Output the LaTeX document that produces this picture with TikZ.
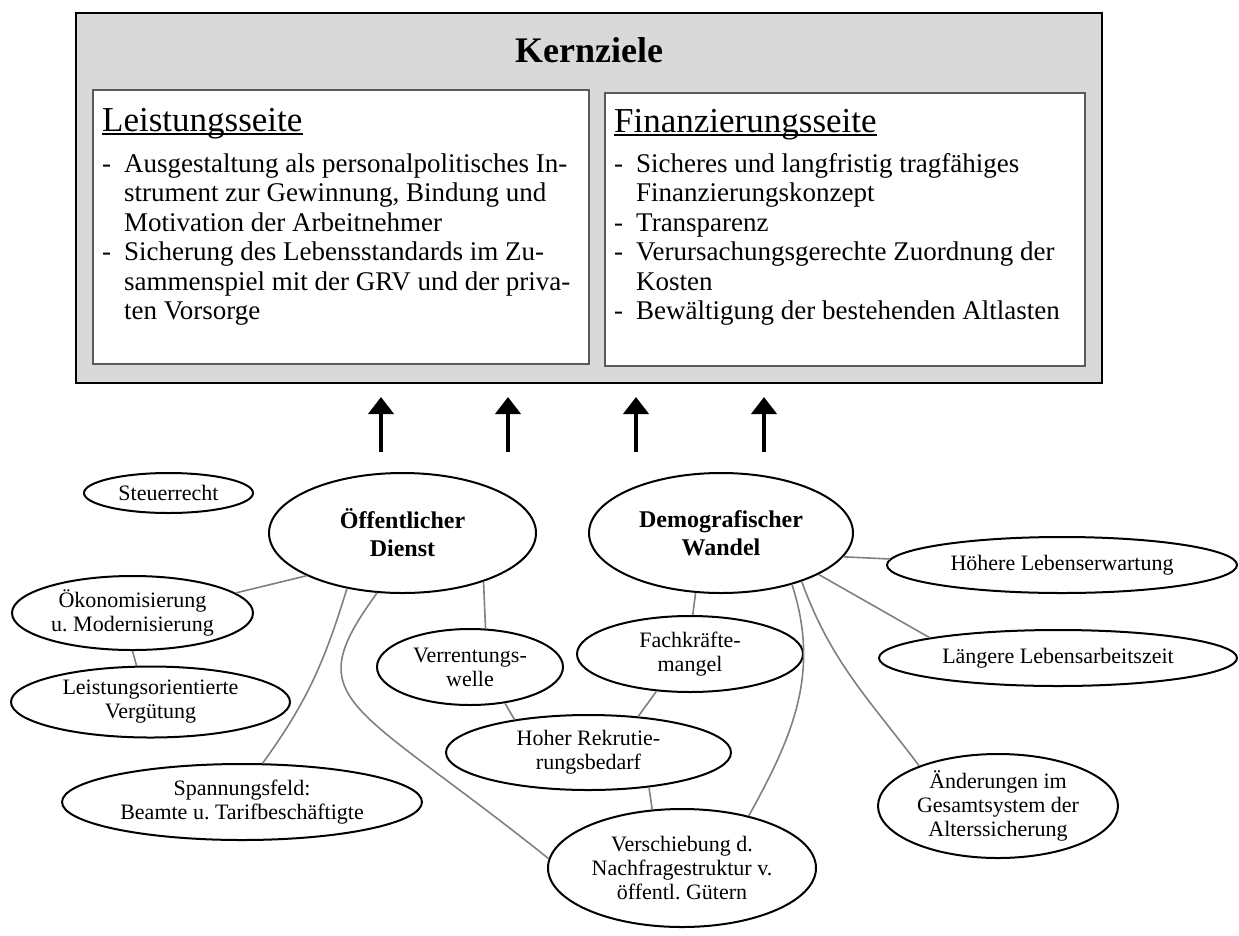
\documentclass[tikz,border=0pt]{standalone}
\usepackage{fontspec}
\setmainfont{Liberation Serif}
\usetikzlibrary{shapes.geometric,arrows.meta}
\definecolor{boxgray}{HTML}{D9D9D9}
\definecolor{linegray}{HTML}{808080}
\definecolor{framegray}{HTML}{5A5A5A}
\frenchspacing
\begin{document}
\begin{tikzpicture}[x=1pt,y=-1pt,
  oval/.style={ellipse, draw=black, line width=2pt, fill=white, align=center,
    inner xsep=-10pt, inner ysep=-8pt, font=\fontsize{22}{24}\selectfont},
  bigoval/.style={oval, font=\fontsize{24}{28}\selectfont\bfseries},
  link/.style={draw=linegray, line width=1.6pt},
  uparrow/.style={line width=4pt, -{Triangle[width=25pt,length=17pt]}},
  txt/.style={inner sep=0pt, anchor=base west, font=\fontsize{27}{30}\selectfont},
  head/.style={inner sep=0pt, anchor=base west, font=\fontsize{35}{40}\selectfont},
  ul/.style={line width=1.6pt},
  frame/.style={draw=framegray, line width=1.6pt, fill=white, inner sep=0pt, anchor=north west}
]
\useasboundingbox (0,0) rectangle (1239,935);

% core goals box
\node[draw=black, line width=2pt, fill=boxgray, inner sep=0pt, anchor=north west,
  minimum width=1026pt, minimum height=370pt] (outer) at (75,12) {};
\node[inner sep=0pt, anchor=base, font=\fontsize{36}{40}\selectfont\bfseries] (kern) at (589,62) {Kernziele};
\node[frame, minimum width=496pt, minimum height=274pt] (lbox) at (92,89) {};
\node[frame, minimum width=480pt, minimum height=273pt] (rbox) at (604,92) {};

% left box
\node[head] (lh) at (102,131) {Leistungsseite};
\draw[ul] ([yshift=-3pt]lh.base west) -- ([yshift=-3pt]lh.base east);
\node[txt] (ld1) at (102,172) {-};
\node[txt] (l1) at (124,172) {Ausgestaltung als personalpolitisches In-};
\node[txt] (l2) at (124,201.5) {strument zur Gewinnung, Bindung und};
\node[txt] (l3) at (124,231) {Motivation der Arbeitnehmer};
\node[txt] (ld2) at (102,260.5) {-};
\node[txt] (l4) at (124,260.5) {Sicherung des Lebensstandards im Zu-};
\node[txt] (l5) at (124,290) {sammenspiel mit der GRV und der priva-};
\node[txt] (l6) at (124,319.5) {ten Vorsorge};

% right box
\node[head] (rh) at (614,132) {Finanzierungsseite};
\draw[ul] ([yshift=-3pt]rh.base west) -- ([yshift=-3pt]rh.base east);
\node[txt] (rd1) at (614,172) {-};
\node[txt] (r1) at (636,172) {Sicheres und langfristig tragfähiges};
\node[txt] (r2) at (636,201.5) {Finanzierungskonzept};
\node[txt] (rd2) at (614,231) {-};
\node[txt] (r3) at (636,231) {Transparenz};
\node[txt] (rd3) at (614,260.5) {-};
\node[txt] (r4) at (636,260.5) {Verursachungsgerechte Zuordnung der};
\node[txt] (r5) at (636,290) {Kosten};
\node[txt] (rd4) at (614,319.5) {-};
\node[txt] (r6) at (636,319.5) {Bewältigung der bestehenden Altlasten};

% arrows
\coordinate (a1b) at (381,452); \coordinate (a1t) at (381,397);
\coordinate (a2b) at (508,452); \coordinate (a2t) at (508,397);
\coordinate (a3b) at (636,452); \coordinate (a3t) at (636,397);
\coordinate (a4b) at (764,452); \coordinate (a4t) at (764,397);
\draw[uparrow] (a1b) -- (a1t);
\draw[uparrow] (a2b) -- (a2t);
\draw[uparrow] (a3b) -- (a3t);
\draw[uparrow] (a4b) -- (a4t);

% ovals
\node[oval, minimum width=169pt, minimum height=40pt] (steuer) at (168.5,493) {Steuerrecht};
\node[bigoval, minimum width=267pt, minimum height=120pt] (od) at (402.5,533) {Öffentlicher\\Dienst};
\node[bigoval, minimum width=264pt, minimum height=120pt] (dw) at (721,533) {Demografischer\\Wandel};
\node[oval, minimum width=350pt, minimum height=56pt] (hoe) at (1062,565) {Höhere Lebenserwartung};
\node[oval, minimum width=241pt, minimum height=74pt] (oek) at (132.5,613) {Ökonomisierung\\u. Modernisierung};
\node[oval, minimum width=186pt, minimum height=76pt] (vrw) at (470,667) {Verrentungs-\\welle};
\node[oval, minimum width=226pt, minimum height=76pt] (fach) at (690,654) {Fachkräfte-\\mangel};
\node[oval, minimum width=358pt, minimum height=56pt] (laeng) at (1058,658) {Längere Lebensarbeitszeit};
\node[oval, minimum width=279pt, minimum height=71pt] (leist) at (150.5,702) {Leistungsorientierte\\Vergütung};
\node[oval, minimum width=285pt, minimum height=75pt] (hoher) at (588.5,752.5) {Hoher Rekrutie-\\rungsbedarf};
\node[oval, minimum width=360pt, minimum height=76pt] (spann) at (242,802) {Spannungsfeld:\\Beamte u. Tarifbeschäftigte};
\node[oval, minimum width=240pt, minimum height=104pt] (aend) at (998,806) {Änderungen im\\Gesamtsystem der\\Alterssicherung};
\node[oval, minimum width=268pt, minimum height=118pt] (versch) at (682,868) {Verschiebung d.\\Nachfragestruktur v.\\öffentl. Gütern};

% connectors
\draw[link] (od.204) -- (oek.11);
\draw[link] (oek.270) -- (leist.111);
\draw[link] (od.225) to[out=-107,in=54] (spann.62);
\draw[link] (od.247) .. controls +(-80,110) and +(-200,-160) .. (versch.176);
\draw[link] (od.329) -- (vrw.68);
\draw[link] (vrw.314) -- (hoher.156);
\draw[link] (fach.228) -- (hoher.36);
\draw[link] (hoher.330) -- (versch.117);
\draw[link] (dw.247) -- (fach.86);
\draw[link] (dw.324) to[out=-72,in=61] (versch.38);
\draw[link] (dw.329) to[out=-70,in=127] (aend.153);
\draw[link] (dw.349) -- (hoe.178);
\draw[link] (dw.337) -- (laeng.171);
\end{tikzpicture}
\end{document}
